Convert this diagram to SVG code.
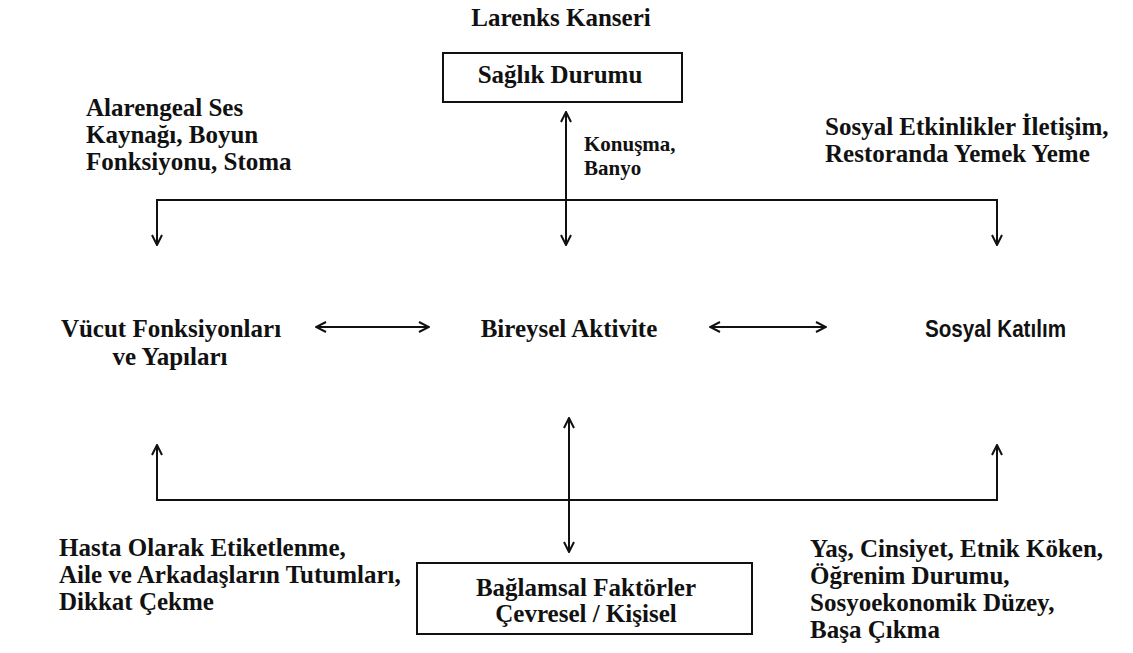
<svg xmlns="http://www.w3.org/2000/svg" width="1133" height="653" viewBox="0 0 1133 653">
<style>
.t{font-family:"Liberation Serif","Times New Roman",serif;font-weight:bold;font-size:25px;fill:#111;}
.s{font-family:"Liberation Sans",Arial,sans-serif;font-weight:bold;fill:#111;}
.box{fill:#fff;stroke:#111;stroke-width:2;}
.c{fill:none;stroke:#111;stroke-width:2;}
</style>
<defs>
<marker id="arr" viewBox="0 0 12 12" refX="11" refY="6" markerWidth="12" markerHeight="12" markerUnits="userSpaceOnUse" orient="auto-start-reverse">
<path d="M1,1 L11,6 L1,11" fill="none" stroke="#111" stroke-width="2"/>
</marker>
</defs>
<rect width="1133" height="653" fill="#fff"/>
<g id="connectors">
<path class="c" d="M566,112 V245" marker-start="url(#arr)" marker-end="url(#arr)"/>
<path class="c" d="M157,245 V200 H997 V245" marker-start="url(#arr)" marker-end="url(#arr)"/>
<path class="c" d="M316,327 H429" marker-start="url(#arr)" marker-end="url(#arr)"/>
<path class="c" d="M710,327 H826" marker-start="url(#arr)" marker-end="url(#arr)"/>
<path class="c" d="M157,445 V500 H997 V445" marker-start="url(#arr)" marker-end="url(#arr)"/>
<path class="c" d="M569,418 V552" marker-start="url(#arr)" marker-end="url(#arr)"/>
</g>
<g id="larenks"><text class="t" x="561" y="26" text-anchor="middle">Larenks Kanseri</text></g>
<g id="saglik">
<rect class="box" x="443" y="53" width="239" height="49"/>
<text class="t" x="560" y="83" text-anchor="middle">Sağlık Durumu</text>
</g>
<g id="konusma"><text class="t" font-size="21" style="font-size:21px"><tspan x="584" y="151">Konuşma,</tspan><tspan x="584" y="175">Banyo</tspan></text></g>
<g id="alarengeal"><text class="t"><tspan x="86" y="116">Alarengeal Ses</tspan><tspan x="86" y="143">Kaynağı, Boyun</tspan><tspan x="86" y="170">Fonksiyonu, Stoma</tspan></text></g>
<g id="sosyal-etk"><text class="t"><tspan x="825" y="135">Sosyal Etkinlikler İletişim,</tspan><tspan x="825" y="162">Restoranda Yemek Yeme</tspan></text></g>
<g id="vucut"><text class="t" text-anchor="middle"><tspan x="171" y="337">Vücut Fonksiyonları</tspan><tspan x="170" y="365">ve Yapıları</tspan></text></g>
<g id="bireysel"><text class="t" x="569" y="337" text-anchor="middle">Bireysel Aktivite</text></g>
<g id="katilim"><text class="s" x="925" y="337" font-size="24" textLength="141" lengthAdjust="spacingAndGlyphs">Sosyal Katılım</text></g>
<g id="hasta"><text class="t"><tspan x="59" y="556">Hasta Olarak Etiketlenme,</tspan><tspan x="59" y="583">Aile ve Arkadaşların Tutumları,</tspan><tspan x="59" y="610">Dikkat Çekme</tspan></text></g>
<g id="baglamsal">
<rect class="box" x="417" y="563" width="335" height="71"/>
<text class="t" text-anchor="middle"><tspan x="586" y="596">Bağlamsal Faktörler</tspan><tspan x="586" y="622">Çevresel / Kişisel</tspan></text>
</g>
<g id="yas"><text class="t"><tspan x="810" y="557">Yaş, Cinsiyet, Etnik Köken,</tspan><tspan x="810" y="584">Öğrenim Durumu,</tspan><tspan x="810" y="611">Sosyoekonomik Düzey,</tspan><tspan x="810" y="638">Başa Çıkma</tspan></text></g>
</svg>
